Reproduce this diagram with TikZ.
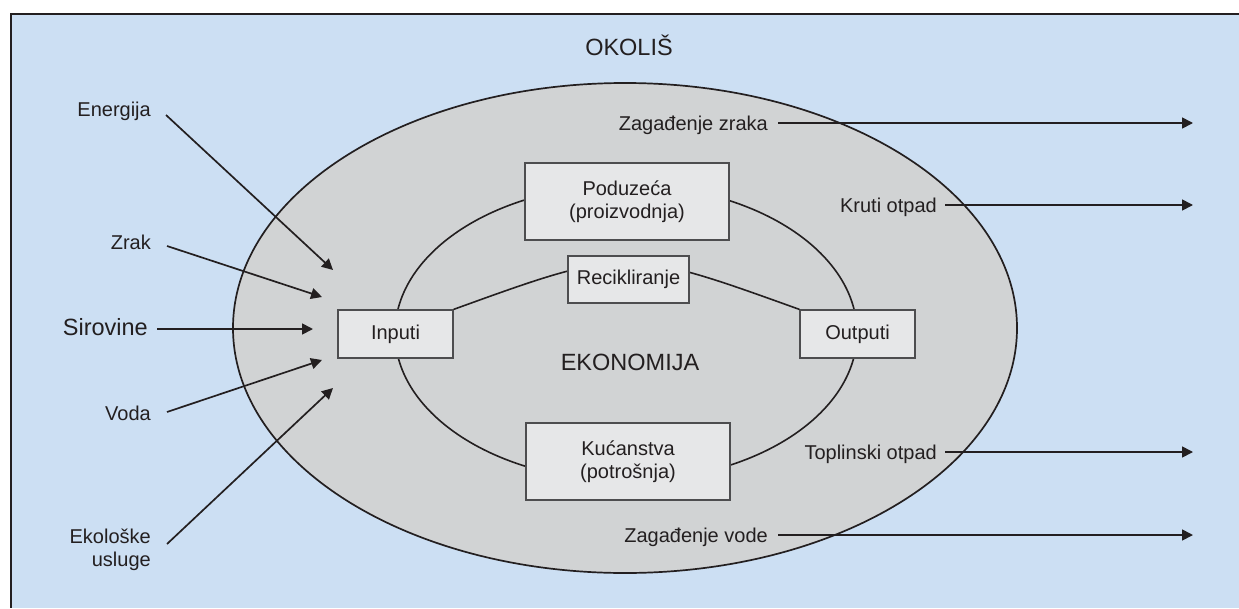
\documentclass[tikz,border=0pt]{standalone}
\usepackage{fontspec}
\setmainfont{Liberation Sans}
\usetikzlibrary{arrows.meta,calc}
\definecolor{okolisboja}{HTML}{CCDFF3}
\definecolor{ekoboja}{HTML}{D1D3D4}
\definecolor{kutijaboja}{HTML}{E6E7E8}
\definecolor{tinta}{HTML}{231F20}
\definecolor{rub}{HTML}{4D4D4F}
\tikzset{
    kutija/.style={draw=rub,fill=kutijaboja,line width=1.2pt,inner sep=0pt,
        align=center,text=tinta,font=\fontsize{20}{23}\selectfont},
    oznaka/.style={inner sep=0pt,text=tinta,font=\fontsize{20}{23}\selectfont},
    veliko/.style={font=\fontsize{23.5}{27}\selectfont},
    strelica/.style={draw=tinta,line width=1.7pt,-{Triangle[length=11pt,width=11pt]}}
}
\begin{document}
\begin{tikzpicture}[x=1pt,y=-1pt]
        \useasboundingbox (0,0) rectangle (1239,608);
        \fill[white] (0,0) rectangle (1239,608);
        \fill[okolisboja] (11,14) rectangle (1239,608);
        \draw[tinta,line width=1.6pt] (1239,14) -- (11,14) -- (11,608);

        \filldraw[fill=ekoboja,draw=tinta,line width=1.7pt] (625,328) ellipse [x radius=392,y radius=245];
        \draw[tinta,line width=1.6pt] (626,333) ellipse [x radius=231,y radius=148];

        \node[oznaka,veliko,anchor=base] (okolis) at (629,55) {OKOLIŠ};
        \node[oznaka,veliko,anchor=base] (ekonomija) at (630,370) {EKONOMIJA};

        \begin{scope}[every node/.style={kutija}]
            \node[minimum width=115pt,minimum height=48pt] (inputi) at (395.5,334) {Inputi};
            \node[minimum width=115pt,minimum height=48pt] (outputi) at (857.5,334) {Outputi};
        \end{scope}

        \coordinate (vrh) at (626,247);
        \draw[tinta,line width=1.6pt] (inputi.north east) .. controls (vrh) .. (outputi.north west);

        \begin{scope}[every node/.style={kutija}]
            \node[minimum width=204pt,minimum height=77pt] (poduzeca) at (627,201.5) {Poduzeća\\(proizvodnja)};
            \node[minimum width=204pt,minimum height=77pt] (kucanstva) at (628,461.5) {Kućanstva\\(potrošnja)};
            \node[minimum width=121pt,minimum height=47pt] (recikliranje) at (628.5,279.5) {Recikliranje};
        \end{scope}

        \begin{scope}[every node/.style={oznaka,anchor=base east}]
            \node (energija) at (151,116) {Energija};
            \node (zrak) at (151,249) {Zrak};
            \node[veliko] (sirovine) at (148,335) {Sirovine};
            \node (voda) at (151,420) {Voda};
            \node[anchor=east,align=right] (usluge) at (151,550) {Ekološke\\usluge};
            \node (zzraka) at (768,130) {Zagađenje zraka};
            \node (kruti) at (937,212) {Kruti otpad};
            \node (toplinski) at (937,459) {Toplinski otpad};
            \node (zvode) at (768,542) {Zagađenje vode};
        \end{scope}

        \coordinate (u1) at (333,270);
        \coordinate (u2) at (322,297);
        \coordinate (u3) at (313,329);
        \coordinate (u4) at (322,360);
        \coordinate (u5) at (333,388);
        \coordinate (i1) at (1193,123);
        \coordinate (i2) at (1193,205);
        \coordinate (i3) at (1193,452);
        \coordinate (i4) at (1193,535);

        \draw[strelica] ($(energija.base east)+(15,-1)$) -- (u1);
        \draw[strelica] ($(zrak.base east)+(16,-3)$) -- (u2);
        \draw[strelica] ($(sirovine.base east)+(9,-6)$) -- (u3);
        \draw[strelica] ($(voda.base east)+(16,-8)$) -- (u4);
        \draw[strelica] ($(usluge.east)+(16,-6)$) -- (u5);
        \draw[strelica] ($(zzraka.base east)+(10,-7)$) -- (i1);
        \draw[strelica] ($(kruti.base east)+(8,-7)$) -- (i2);
        \draw[strelica] ($(toplinski.base east)+(8,-7)$) -- (i3);
        \draw[strelica] ($(zvode.base east)+(10,-7)$) -- (i4);
    \end{tikzpicture}
\end{document}
